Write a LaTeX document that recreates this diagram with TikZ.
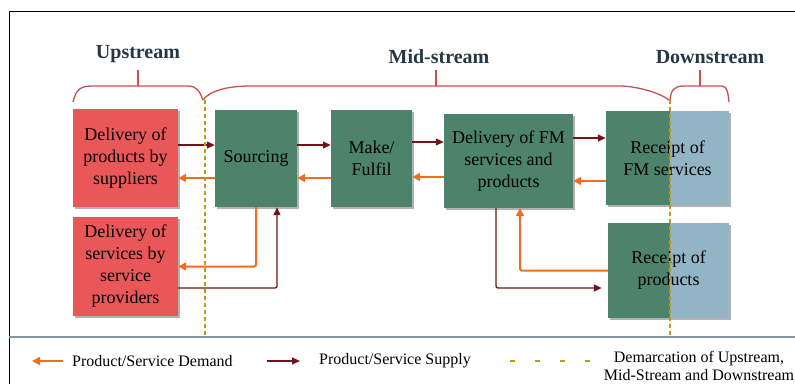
\documentclass[tikz,border=0pt]{standalone}
\usepackage{fontspec}
\setmainfont{Liberation Serif}
\usetikzlibrary{arrows.meta,positioning,shadows}

\definecolor{supred}{RGB}{234,87,89}
\definecolor{midgreen}{RGB}{76,131,106}
\definecolor{downblue}{RGB}{147,180,196}
\definecolor{demandorange}{RGB}{240,108,32}
\definecolor{supplyred}{RGB}{112,22,22}
\definecolor{bracered}{RGB}{196,82,80}
\definecolor{titleink}{RGB}{36,55,70}
\definecolor{demarcgold}{RGB}{196,150,24}
\definecolor{rulegrey}{RGB}{130,152,168}

\begin{document}
\begin{tikzpicture}[x=1pt, y=-1pt,
    box/.style={rectangle, inner sep=0pt, align=center, font=\fontsize{18}{22}\selectfont,
        drop shadow={shadow xshift=1.5pt, shadow yshift=-2pt, opacity=0.3, fill=black}},
    upbox/.style={box, fill=supred},
    midbox/.style={box, fill=midgreen},
    splitbox/.style={box, fill=midgreen, path picture={\fill[downblue] ([xshift=#1]path picture bounding box.south west) rectangle (path picture bounding box.north east);}},
    supply/.style={-{Triangle[length=8pt,width=7pt]}, line width=1.3pt, draw=supplyred, rounded corners=2pt},
    demand/.style={-{Triangle[length=8pt,width=8pt]}, line width=2pt, draw=demandorange, rounded corners=2pt},
    brace/.style={draw=bracered, line width=1.3pt},
    stage/.style={font=\fontsize{20}{24}\selectfont\bfseries, text=titleink},
    demarc/.style={draw=demarcgold, line width=2pt, dash pattern=on 4pt off 3pt},
    legend/.style={font=\fontsize{16}{18}\selectfont, inner sep=0pt, align=center}
]
\useasboundingbox (0,0) rectangle (795,384);

% Frame and legend rule
\draw[line width=1pt] (9,384) -- (9,11) -- (795,11);
\draw[rulegrey, line width=1.2pt] (9,337) -- (795,337);

% Stage titles with their braces
\node[stage] (up) at (138,54) {Upstream};
\node[stage] (mid) at (439,57) {Mid-stream};
\node[stage] (down) at (710,57) {Downstream};

\draw[brace] (73,102) .. controls (76,90) and (80,86) .. (92,86) -- (188,86) .. controls (197,86) and (200,92) .. (203,100);
\draw[brace] (203,100) .. controls (210,90) and (230,86) .. (250,86) -- (622,86) .. controls (640,87) and (660,93) .. (669,100);
\draw[brace] (670,100) .. controls (671,90) and (674,86) .. (684,86) -- (722,86) .. controls (727,86) and (728,93) .. (729,102);
\draw[brace] (138,86) -- (138,70);
\draw[brace] (436,86) -- (436,70);
\draw[brace] (700,86) -- (700,70);

% Upstream
\node[upbox, minimum width=105pt, minimum height=98pt] (supp) at (125.5,158) {Delivery of\\products by\\suppliers};
\node[upbox, minimum width=105pt, minimum height=99pt] (serv) at (125.5,266.5) {Delivery of\\services by\\service\\providers};

% Mid-stream
\node[midbox, minimum width=82pt, minimum height=97pt] (src) at (256,158.5) {Sourcing};
\node[midbox, minimum width=81pt, minimum height=97pt] (make) at (371.5,158.5) {Make/\\Fulfil};
\node[midbox, minimum width=129pt, minimum height=94pt] (fm) at (508.5,161) {Delivery of FM\\services and\\products};

% Downstream
\node[splitbox=64pt, minimum width=123pt, minimum height=94pt] (rfm) at (667.5,158) {Receipt of\\FM services};
\node[splitbox=62pt, minimum width=121pt, minimum height=95pt] (rprod) at (668.5,270.5) {Receipt of\\products};

% Supply flow
\draw[supply] ([yshift=13pt]supp.east) -- ([yshift=13pt]supp.east -| src.west);
\draw[supply] ([yshift=13.5pt]src.east) -- ([yshift=13.5pt]src.east -| make.west);
\draw[supply] ([yshift=16.5pt]make.east) -- ([yshift=16.5pt]make.east -| fm.west);
\draw[supply] ([yshift=23pt]fm.east) -- ([yshift=23pt]fm.east -| rfm.west);
\draw[supply] ([yshift=-21.5pt]serv.east) -| ([xshift=21pt]src.south);
\draw[supply] ([xshift=-12.5pt]fm.south) |- ([xshift=-6pt,yshift=-17.5pt]rprod.west);

% Demand flow
\draw[demand] ([yshift=-19.5pt]src.west) -- ([yshift=-19.5pt]src.west -| supp.east);
\draw[demand] ([yshift=-19.5pt]make.west) -- ([yshift=-19.5pt]make.west -| src.east);
\draw[demand] ([yshift=-16pt]fm.west) -- ([yshift=-16pt]fm.west -| make.east);
\draw[demand] ([yshift=-23pt]rfm.west) -- ([yshift=-23pt]rfm.west -| fm.east);
\draw[demand] (src.south) |- (serv.east);
\draw[demand] (rprod.west) -| ([xshift=11.5pt]fm.south);

% Demarcation lines
\draw[demarc] (205,100) -- (205,337);
\draw[demarc] (670,100) -- (670,337);

% Legend
\node[legend, anchor=west] (lgdem) at (72,361) {Product/Service Demand};
\node[legend, anchor=west] (lgsup) at (319,361) {Product/Service Supply};
\node[legend] (lgline) at (699,366) {Demarcation of Upstream,\\Mid-Stream and Downstream};
\draw[demand] ([xshift=-9pt]lgdem.west) -- ++(-31,0);
\draw[supply] ([xshift=-52pt]lgsup.west) -- ++(33,0);
\draw[draw=demarcgold, line width=2pt, dash pattern=on 5pt off 20pt] (510,361) -- (592,361);

\end{tikzpicture}
\end{document}
